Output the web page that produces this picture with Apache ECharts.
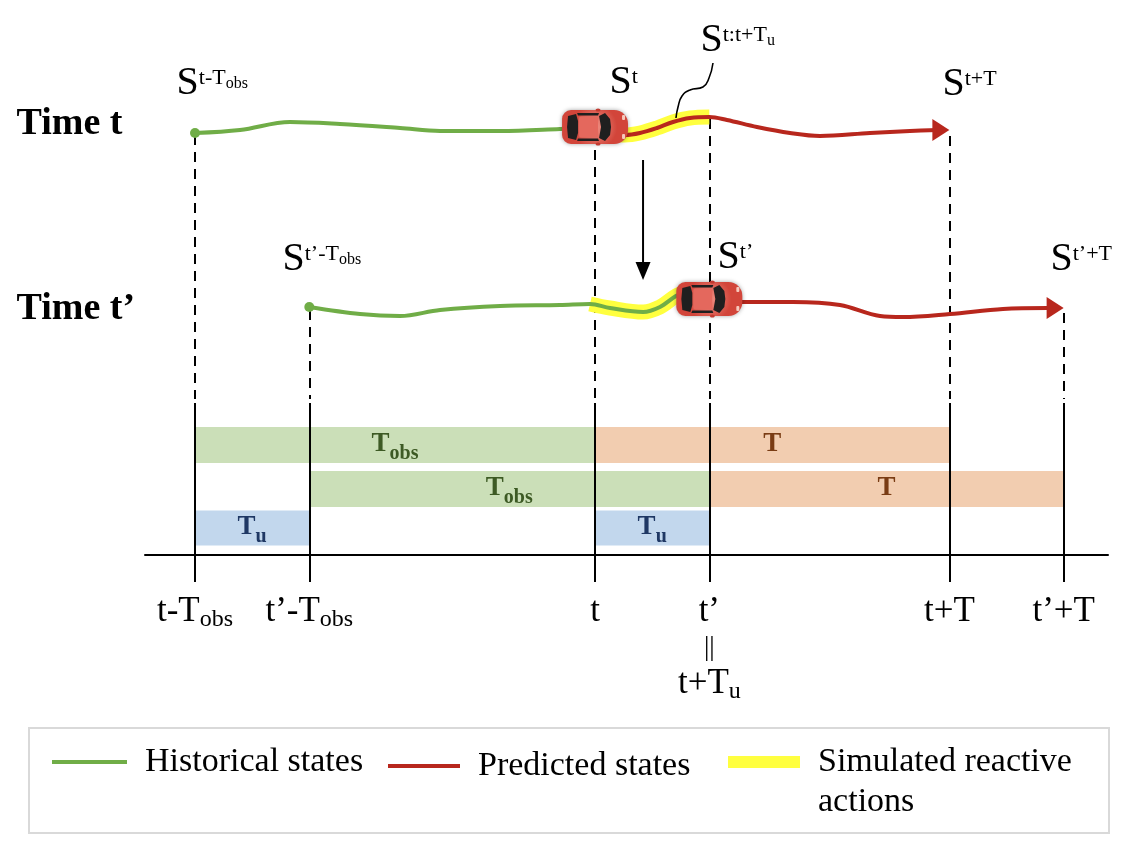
<!DOCTYPE html>
<html>
<head>
<meta charset="utf-8">
<script src="https://cdn.jsdelivr.net/npm/echarts@6/dist/echarts.min.js"></script>
<style>html,body{margin:0;padding:0;background:#fff}#c{width:1136px;height:862px}</style>
</head>
<body>
<div id="c"></div>
<script>
// ---------------- DATA ----------------
// time marks on the axis (unit: Tu = 1, Tobs = 3.5, T = 3.1)
const tickTimes  = [0, 1, 3.5, 4.5, 6.6, 7.6];
const tickLabels = ['{m|t-T}{s|obs}', '{m|t\u2019-T}{s|obs}', '{m|t}', '{m|t\u2019}\n{eq|||}\n{m|t+T}{s|u}', '{m|t+T}', '{m|t\u2019+T}'];

// trajectories [time, lateral position]
const historyNow    = [[0,133],[0.394,130],[0.831,122],[1.269,124],[1.794,128],[2.144,131],[2.669,131],[3.193,129],[3.35,128]];
const predictedNow  = [[3.63,134],[3.762,135],[3.893,133],[4.042,128],[4.182,122],[4.331,118],[4.5,117],[4.654,120],[4.917,127],[5.206,133],[5.468,136],[5.906,133],[6.255,131],[6.5,130]];
const simulatedNow  = [[3.63,134],[3.762,135],[3.893,133],[4.042,128],[4.182,122],[4.331,118],[4.5,117]];
const historyNext   = [[1,307],[1.444,314],[1.794,316],[2.144,310],[2.669,306],[3.193,305],[3.456,304],[3.631,308],[3.92,312],[4.068,307],[4.208,296],[4.3,292]];
const simulatedNext = [[3.456,304],[3.631,308],[3.92,312],[4.068,307],[4.208,296],[4.3,292]];
const predictedNext = [[4.593,301],[4.786,302],[5.232,302],[5.643,305],[5.993,316],[6.194,317],[6.605,314],[7.069,309],[7.463,308]];
const startPoints   = [[0,133],[1,307]];
const arrowTips     = [[6.6,130],[7.6,308]];
const carStates     = [[3.5,127],[4.5,299]];
const leaderCurve   = [[4.532,63],[4.497,78],[4.444,87],[4.331,90],[4.261,96],[4.226,107],[4.208,118]];
const shiftArrow    = [[3.92,160],[3.92,268]];
const shiftArrowTip = [[3.92,280]];

// horizon bars
const barStart = [0, 3.5, 1, 4.5, 0, 3.5];
const barEnd   = [3.5, 6.6, 4.5, 7.6, 1, 4.5];
const barRow   = [0, 0, 1, 1, 2, 2];
const barKind  = [0, 1, 0, 1, 2, 2];
const kindText = ['{m|T}{s|obs}', '{m|T}', '{m|T}{s|u}'];

// state labels
const stateTexts = [
  '{S|S}{p|t-T}{q|obs}', '{S|S}{p|t}', '{S|S}{p|t:t+T}{q|u}', '{S|S}{p|t+T}',
  '{S|S}{p|t\u2019-T}{q|obs}', '{S|S}{p|t\u2019}', '{S|S}{p|t\u2019+T}',
  '{b|Time t}', '{b|Time t\u2019}'
];
const legendNames = ['Historical states', 'Predicted states', 'Simulated reactive actions'];

// ---------------- LAYOUT / STYLE ----------------
const FONT = '"Liberation Serif", "Times New Roman", serif';
const GREEN = '#70ad47', RED = '#b8271d', YELLOW = '#ffff3f';
const layout = {
  rowY: [445, 489, 528], rowH: [36, 36, 35],
  guideTop: [135, 310, 150, 119, 136, 313], dashBottom: 399, solidTop: 403, axisY: 555,
  stateAnchors: [[-0.157,58],[3.631,57],[4.427,15],[6.544,59],[0.770,234],[4.576,232],[7.489,234],[-1.557,105],[-1.557,290]]
};
const kindFill = ['#cbdfb8', '#f2cdb0', '#c2d7ed'];
const kindColor = ['#3d5a24', '#7a3c14', '#1f3864'];

function barRich(color) {
  return {
    m: {fontSize: 27, fontWeight: 'bold', fontFamily: FONT, fill: color, lineHeight: 34, verticalAlign: 'bottom', padding: [0,0,6,0]},
    s: {fontSize: 20, fontWeight: 'bold', fontFamily: FONT, fill: color, lineHeight: 34, verticalAlign: 'bottom'}
  };
}

const chart = echarts.init(document.getElementById('c'));
const lineBase = {type: 'line', smooth: 0.35, symbol: 'none', silent: true, animation: false};

chart.setOption({
  animation: false,
  grid: {left: 145, right: 28, top: 0, bottom: 307},
  xAxis: {
    type: 'value', min: -0.4375, max: 7.988,
    splitLine: {show: false},
    axisLine: {show: true, onZero: false, lineStyle: {color: '#000', width: 2}},
    axisTick: {show: true, customValues: tickTimes, length: 27, lineStyle: {color: '#000', width: 2}},
    axisLabel: {
      customValues: tickTimes, margin: 37, color: '#000',
      formatter: v => { const i = tickTimes.findIndex(t => Math.abs(t - v) < 1e-6); return i < 0 ? '' : tickLabels[i]; },
      rich: {
        m: {fontSize: 35, fontFamily: FONT, color: '#000', lineHeight: 40, verticalAlign: 'bottom', padding: [0,0,3,0]},
        s: {fontSize: 24, fontFamily: FONT, color: '#000', lineHeight: 40, verticalAlign: 'bottom'},
        eq: {fontSize: 27, fontFamily: FONT, color: '#000', lineHeight: 32}
      }
    }
  },
  yAxis: {type: 'value', inverse: true, min: 0, max: 555, show: false},
  legend: [
    {data: [{name: legendNames[0], itemStyle: {color: GREEN}}], left: 52, top: 745, itemWidth: 75, itemHeight: 4},
    {data: [{name: legendNames[1], itemStyle: {color: RED}}], left: 388, top: 749, itemWidth: 72, itemHeight: 4},
    {data: [{name: legendNames[2], itemStyle: {color: YELLOW}}], left: 728, top: 745, itemWidth: 72, itemHeight: 12, formatter: 'Simulated reactive'}
  ].map(l => Object.assign(l, {
    icon: 'rect', selectedMode: false, padding: 0, orient: 'horizontal',
    textStyle: {fontFamily: FONT, fontSize: 34, color: '#000', padding: [0,0,0,13]}
  })),
  graphic: [
    {type: 'rect', left: 28, top: 727, shape: {width: 1080, height: 105}, style: {fill: '#fff', stroke: '#d9d9d9', lineWidth: 2}, z: -10},
    {type: 'text', left: 818, top: 785, style: {text: 'actions', fontFamily: FONT, fontSize: 34, fill: '#000'}}
  ],
  series: [
    // horizon bars
    {
      type: 'custom', silent: true, z: 1,
      data: barStart.map((s, i) => [s, barEnd[i], barRow[i], barKind[i]]),
      encode: {x: [0, 1]},
      renderItem: (params, api) => {
        const s = api.value(0), e = api.value(1), r = api.value(2), k = api.value(3);
        const yc = layout.rowY[r], h = layout.rowH[r];
        const p0 = api.coord([s, yc - h / 2]), p1 = api.coord([e, yc + h / 2]);
        return {type: 'group', children: [
          {type: 'rect', shape: {x: p0[0], y: p0[1], width: p1[0] - p0[0], height: p1[1] - p0[1]}, style: {fill: kindFill[k]}},
          {type: 'text', style: {x: (p0[0] + p1[0]) / 2, y: (p0[1] + p1[1]) / 2 + 2, text: kindText[k], align: 'center', verticalAlign: 'middle', rich: barRich(kindColor[k])}}
        ]};
      }
    },
    // dashed guides
    {
      type: 'lines', coordinateSystem: 'cartesian2d', silent: true, z: 1, clip: false,
      data: tickTimes.map((t, i) => ({coords: [[t, layout.guideTop[i]], [t, layout.dashBottom]]})),
      lineStyle: {color: '#000', width: 2, type: [10, 7], opacity: 1}
    },
    // solid guides
    {
      type: 'lines', coordinateSystem: 'cartesian2d', silent: true, z: 3, clip: false,
      data: tickTimes.map(t => ({coords: [[t, layout.solidTop], [t, layout.axisY]]})),
      lineStyle: {color: '#000', width: 2, type: 'solid', opacity: 1}
    },
    // simulated reactive actions (yellow band)
    Object.assign({}, lineBase, {name: legendNames[2], data: simulatedNow, z: 3, itemStyle: {color: YELLOW}, lineStyle: {color: YELLOW, width: 15, cap: 'butt'}}),
    Object.assign({}, lineBase, {name: legendNames[2], data: simulatedNext, z: 3, itemStyle: {color: YELLOW}, lineStyle: {color: YELLOW, width: 15, cap: 'butt'}}),
    // historical
    Object.assign({}, lineBase, {name: legendNames[0], data: historyNow, z: 4, itemStyle: {color: GREEN}, lineStyle: {color: GREEN, width: 4}}),
    Object.assign({}, lineBase, {name: legendNames[0], data: historyNext, z: 4, itemStyle: {color: GREEN}, lineStyle: {color: GREEN, width: 4}}),
    // predicted
    Object.assign({}, lineBase, {name: legendNames[1], data: predictedNow, z: 4, itemStyle: {color: RED}, lineStyle: {color: RED, width: 4}}),
    Object.assign({}, lineBase, {name: legendNames[1], data: predictedNext, z: 4, itemStyle: {color: RED}, lineStyle: {color: RED, width: 4}}),
    // start dots
    {type: 'scatter', silent: true, z: 5, data: startPoints, symbol: 'circle', symbolSize: 10, itemStyle: {color: GREEN, opacity: 1}},
    // red arrow heads
    {type: 'scatter', silent: true, z: 5, data: arrowTips, symbol: 'path://M0,0L16,11L0,22Z', symbolSize: [17, 22], symbolOffset: [-8.5, 0], itemStyle: {color: RED, opacity: 1}},
    // leader line for S^{t:t+Tu}
    Object.assign({}, lineBase, {data: leaderCurve, z: 6, smooth: 0.5, lineStyle: {color: '#000', width: 1.6}}),
    // shift arrow (time t -> t')
    Object.assign({}, lineBase, {data: shiftArrow, z: 6, smooth: false, lineStyle: {color: '#000', width: 2}}),
    {type: 'scatter', silent: true, z: 6, data: shiftArrowTip, symbol: 'triangle', symbolSize: [15, 18], symbolRotate: 180, symbolOffset: [0, -9], itemStyle: {color: '#000', opacity: 1}},
    // cars
    {
      type: 'custom', silent: true, z: 7, data: carStates,
      renderItem: (params, api) => {
        const c = api.coord([api.value(0), api.value(1)]);
        const dark = '#1f1f1f';
        return {type: 'group', x: c[0], y: c[1], children: [
          {type: 'rect', shape: {x: -33, y: -17, width: 66, height: 34, r: [9, 14, 14, 9]},
           style: {fill: new echarts.graphic.RadialGradient(0.5, 0.5, 0.65, [{offset: 0, color: '#f09488'}, {offset: 1, color: '#d2453a'}]), shadowBlur: 4, shadowColor: 'rgba(0,0,0,0.35)'}},
          {type: 'ellipse', shape: {cx: 3, cy: -17, rx: 2.5, ry: 1.6}, style: {fill: '#c23a30'}},
          {type: 'ellipse', shape: {cx: 3, cy: 17, rx: 2.5, ry: 1.6}, style: {fill: '#c23a30'}},
          {type: 'polygon', shape: {points: [[-27,-11],[-19,-13],[-17,-6],[-17,6],[-19,13],[-27,11],[-28,0]]}, style: {fill: dark}},
          {type: 'polygon', shape: {points: [[4,-11],[10,-14],[15,-8],[16,0],[15,8],[10,14],[4,11],[6,0]]}, style: {fill: dark}},
          {type: 'polygon', shape: {points: [[-18,-14],[4,-14],[3,-11.5],[-17,-11.5]]}, style: {fill: dark}},
          {type: 'polygon', shape: {points: [[-18,14],[4,14],[3,11.5],[-17,11.5]]}, style: {fill: dark}},
          {type: 'rect', shape: {x: -16, y: -10.5, width: 19, height: 21, r: 2}, style: {fill: '#e4685d'}},
          {type: 'rect', shape: {x: 27, y: -12, width: 3, height: 5, r: 1}, style: {fill: '#f6c9bd'}},
          {type: 'rect', shape: {x: 27, y: 7, width: 3, height: 5, r: 1}, style: {fill: '#f6c9bd'}}
        ]};
      }
    },
    // text labels
    {
      type: 'scatter', silent: true, z: 8, clip: false,
      data: layout.stateAnchors, symbolSize: 1, itemStyle: {color: 'rgba(0,0,0,0)', opacity: 1},
      label: {
        show: true, position: [0, 0], align: 'left', verticalAlign: 'top', color: '#000', opacity: 1, textBorderWidth: 0,
        formatter: p => stateTexts[p.dataIndex],
        rich: {
          S: {fontSize: 40, fontFamily: FONT, color: '#000', lineHeight: 46, verticalAlign: 'bottom'},
          p: {fontSize: 22, fontFamily: FONT, color: '#000', lineHeight: 46, verticalAlign: 'top', padding: [10,0,0,0]},
          q: {fontSize: 16, fontFamily: FONT, color: '#000', lineHeight: 46, verticalAlign: 'top', padding: [18,0,0,0]},
          b: {fontSize: 38, fontFamily: FONT, fontWeight: 'bold', color: '#000', lineHeight: 40}
        }
      }
    }
  ]
});
</script>
</body>
</html>
